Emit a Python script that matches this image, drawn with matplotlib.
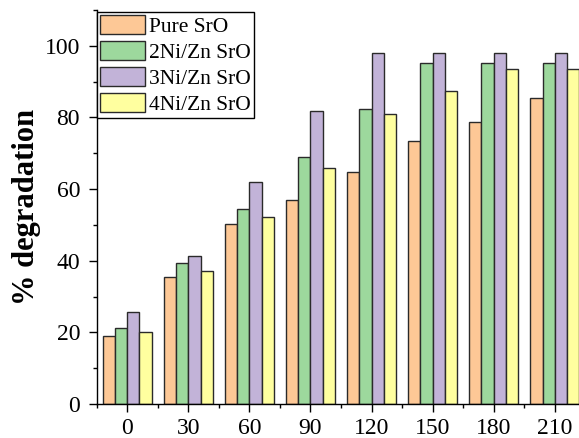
import matplotlib
matplotlib.use('Agg')
import matplotlib.pyplot as plt
import numpy as np
from matplotlib.ticker import MultipleLocator

plt.rcParams['font.family'] = ['Liberation Serif', 'DejaVu Serif']

# data
times = ['0', '30', '60', '90', '120', '150', '180', '210']
labels = ['Pure SrO', '2Ni/Zn SrO', '3Ni/Zn SrO', '4Ni/Zn SrO']
pure = [19.1, 35.4, 50.2, 57.0, 64.9, 73.3, 78.6, 85.4]
ni2 = [21.3, 39.3, 54.4, 69.1, 82.3, 95.2, 95.2, 95.2]
ni3 = [25.6, 41.2, 62.0, 81.7, 98.0, 98.0, 98.0, 98.0]
ni4 = [20.0, 37.0, 52.1, 66.0, 80.9, 87.4, 93.6, 93.6]
colors = ['#FDC896', '#9DD89D', '#C2B3D8', '#FFFF9F']

fig = plt.figure(figsize=(5.79, 4.38), dpi=100)
ax = fig.add_axes([0.167, 0.0776, 0.8438, 0.8995])

x = np.arange(len(times))
w = 0.2
for i, (vals, lab, c) in enumerate(zip([pure, ni2, ni3, ni4], labels, colors)):
    ax.bar(x + (i - 1.5) * w, vals, width=w, color=c, edgecolor='#2a2a2a',
           linewidth=1.0, label=lab, zorder=2)

ax.set_xlim(-0.5, len(times) - 0.5)
ax.set_ylim(0, 110)
ax.set_xticks(x)
ax.set_xticklabels(times)
ax.set_xticks(np.arange(-0.5, len(times), 1.0), minor=True)
ax.yaxis.set_major_locator(MultipleLocator(20))
ax.yaxis.set_minor_locator(MultipleLocator(10))

ax.tick_params(axis='both', which='major', labelsize=17, length=6, width=1, direction='out')
ax.tick_params(axis='both', which='minor', length=3, width=1, direction='out')
ax.tick_params(axis='x', pad=4)
ax.tick_params(axis='y', pad=6)

for s in ['top', 'right']:
    ax.spines[s].set_visible(False)
for s in ['left', 'bottom']:
    ax.spines[s].set_linewidth(1.0)

ax.set_ylabel('% degradation', fontsize=22, fontweight='bold')
ax.yaxis.set_label_coords(-0.115, 0.5)

leg = ax.legend(loc='upper left', bbox_to_anchor=(0.0, 0.995), fontsize=15.5,
                frameon=True, fancybox=False, edgecolor='black', framealpha=1,
                handlelength=2.1, handleheight=1.0, handletextpad=0.2,
                labelspacing=0.18, borderpad=0.15, borderaxespad=0.0)
leg.get_frame().set_linewidth(1.0)

fig.savefig('out.png', dpi=100)
